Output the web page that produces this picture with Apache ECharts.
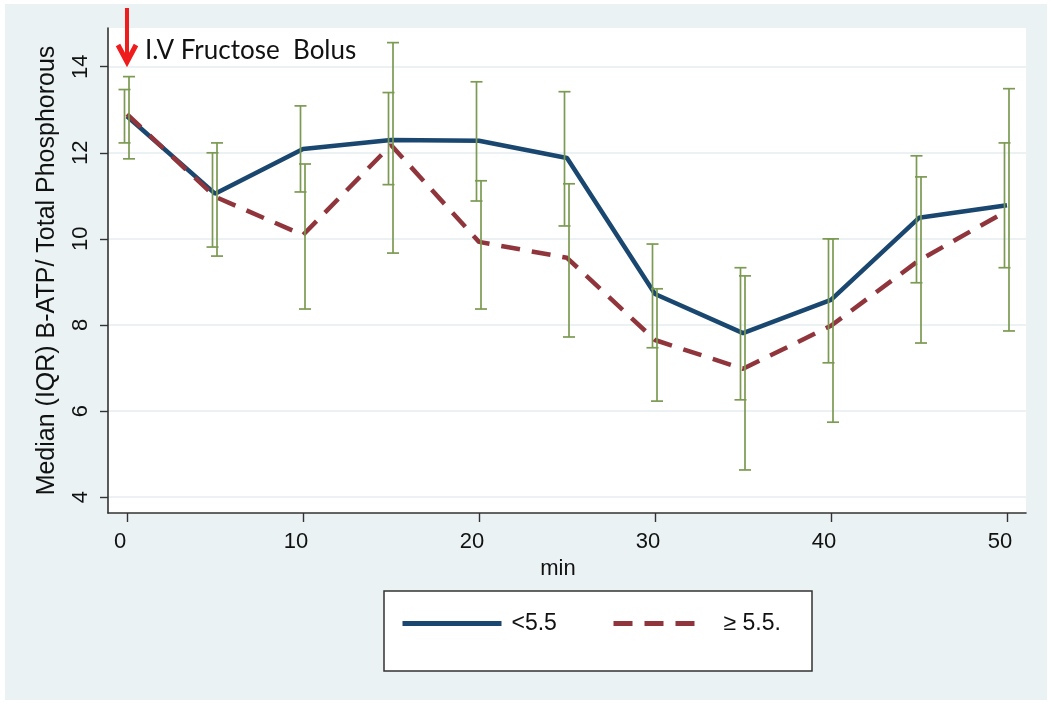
<!DOCTYPE html>
<html>
<head>
<meta charset="utf-8">
<script src="https://cdn.jsdelivr.net/npm/echarts@6/dist/echarts.min.js"></script>
<style>
  html, body { margin: 0; padding: 0; background: #fff; }
  #chart { width: 1050px; height: 703px; }
</style>
</head>
<body>
<div id="chart"></div>
<script>
// time points (min)
const minutes = [0, 5, 10, 15, 20, 25, 30, 35, 40, 45, 50]
const xTicks = [0, 10, 20, 30, 40, 50]
const yTicks = [4, 6, 8, 10, 12, 14]

// median B-ATP / total phosphorous, group <5.5
const medianLow = [12.85, 11.05, 12.09, 12.30, 12.28, 11.88, 8.72, 7.81, 8.58, 10.49, 10.78]
const q1Low = [12.23, 9.81, 11.09, 11.26, 10.88, 10.30, 7.47, 6.26, 7.12, 8.98, 9.33]
const q3Low = [13.47, 12.00, 13.09, 13.40, 13.65, 13.42, 9.88, 9.33, 10.00, 11.93, 12.23]

// group >= 5.5
const medianHigh = [12.90, 10.98, 10.09, 12.18, 9.93, 9.56, 7.65, 6.98, 7.98, 9.50, 10.65]
const q1High = [11.86, 9.60, 8.37, 9.67, 8.37, 7.72, 6.23, 4.63, 5.74, 7.58, 7.86]
const q3High = [13.77, 12.23, 11.74, 14.56, 11.35, 11.28, 8.84, 9.14, 10.00, 11.44, 13.49]

const seriesNames = ['<5.5', '≥ 5.5.']

const navy = '#1a476f'
const maroon = '#90353b'
const barGreen = '#7b9a52'
const font = 'Liberation Sans, Arial, sans-serif'

const chart = echarts.init(document.getElementById('chart'))

// IQR whisker: vertical line with caps, shifted a few px so both groups show
const makeIqr = (shift) => (params, api) => {
  const t = api.value(0)
  const top = api.coord([t, api.value(2)])
  const bot = api.coord([t, api.value(1)])
  const x = top[0] + shift
  const cap = 6
  const style = { stroke: barGreen, lineWidth: 1.7 }
  return {
    type: 'group',
    children: [
      { type: 'line', shape: { x1: x, y1: top[1], x2: x, y2: bot[1] }, style },
      { type: 'line', shape: { x1: x - cap, y1: top[1], x2: x + cap, y2: top[1] }, style },
      { type: 'line', shape: { x1: x - cap, y1: bot[1], x2: x + cap, y2: bot[1] }, style }
    ]
  }
}

const legendBase = {
  top: 607,
  itemHeight: 14,
  itemStyle: { opacity: 0 },
  lineStyle: { width: 5 },
  selectedMode: false
}

const option = {
  animation: false,
  backgroundColor: '#fff',
  graphic: [
    {
      type: 'rect', z: -10,
      shape: { x: 5, y: 4, width: 1042, height: 696 },
      style: { fill: '#eaf2f3' }
    },
    {
      type: 'rect', z: -5,
      shape: { x: 384, y: 591, width: 428, height: 80 },
      style: { fill: '#fff', stroke: '#333', lineWidth: 1.5 }
    },
    {
      type: 'line', z: 20,
      shape: { x1: 127, y1: 8, x2: 127, y2: 60 },
      style: { stroke: '#ee1c1c', lineWidth: 4 }
    },
    {
      type: 'polyline', z: 20,
      shape: { points: [[118, 45], [127, 62], [136, 45]] },
      style: { stroke: '#ee1c1c', lineWidth: 5, fill: null, lineJoin: 'miter' }
    },
    {
      type: 'text', z: 20,
      left: 145, top: 38,
      style: { text: 'I.V Fructose  Bolus', font: '26px Lato, sans-serif', fill: '#111' }
    }
  ],
  legend: [
    Object.assign({}, legendBase, {
      data: [seriesNames[0]],
      left: 395,
      itemWidth: 99,
      textStyle: { fontFamily: font, fontSize: 23, color: '#111', padding: [0, 0, 0, 5] }
    }),
    Object.assign({}, legendBase, {
      data: [seriesNames[1]],
      left: 606,
      itemWidth: 86,
      textStyle: { fontFamily: font, fontSize: 23, color: '#111', padding: [0, 0, 0, 19] }
    })
  ],
  grid: {
    left: 108, right: 24, top: 28, bottom: 190,
    show: true, backgroundColor: '#fff', borderWidth: 0
  },
  xAxis: {
    type: 'value',
    min: -1.08, max: 51.08,
    name: 'min',
    nameLocation: 'middle',
    nameGap: 44,
    nameTextStyle: { fontFamily: font, fontSize: 22, color: '#111', padding: [0, 18, 0, 0] },
    axisLine: { onZero: false, lineStyle: { color: '#333', width: 1.6 } },
    axisTick: { customValues: xTicks, length: 9, lineStyle: { color: '#333', width: 1.4 } },
    axisLabel: {
      customValues: xTicks,
      margin: 18,
      fontFamily: font, fontSize: 22, color: '#111',
      padding: [0, 14, 0, 0]
    },
    splitLine: { show: false }
  },
  yAxis: {
    type: 'value',
    min: 3.63, max: 14.9,
    name: 'Median (IQR) B-ATP/ Total Phosphorous',
    nameLocation: 'middle',
    nameRotate: 90,
    nameGap: 48,
    nameTextStyle: { fontFamily: font, fontSize: 25, color: '#111' },
    axisLine: { show: true, onZero: false, lineStyle: { color: '#333', width: 1.6 } },
    axisTick: { show: true, customValues: yTicks, length: 8, lineStyle: { color: '#333', width: 1.4 } },
    axisLabel: {
      customValues: yTicks,
      rotate: 90,
      margin: 16,
      fontFamily: font, fontSize: 22, color: '#111'
    },
    splitLine: { show: true, lineStyle: { color: '#e6eef0', width: 1.5 } }
  },
  series: [
    {
      name: seriesNames[0],
      type: 'line',
      data: minutes.map((t, i) => [t, medianLow[i]]),
      symbol: 'none',
      lineStyle: { color: navy, width: 4.5 },
      itemStyle: { color: navy },
      z: 3
    },
    {
      name: seriesNames[1],
      type: 'line',
      data: minutes.map((t, i) => [t, medianHigh[i]]),
      symbol: 'none',
      lineStyle: { color: maroon, width: 4.5, type: [19, 12] },
      itemStyle: { color: maroon },
      z: 4
    },
    {
      type: 'custom',
      renderItem: makeIqr(-2.5),
      data: minutes.map((t, i) => [t, q1Low[i], q3Low[i]]),
      z: 6
    },
    {
      type: 'custom',
      renderItem: makeIqr(2),
      data: minutes.map((t, i) => [t, q1High[i], q3High[i]]),
      z: 6
    }
  ]
}

chart.setOption(option)
</script>
</body>
</html>
